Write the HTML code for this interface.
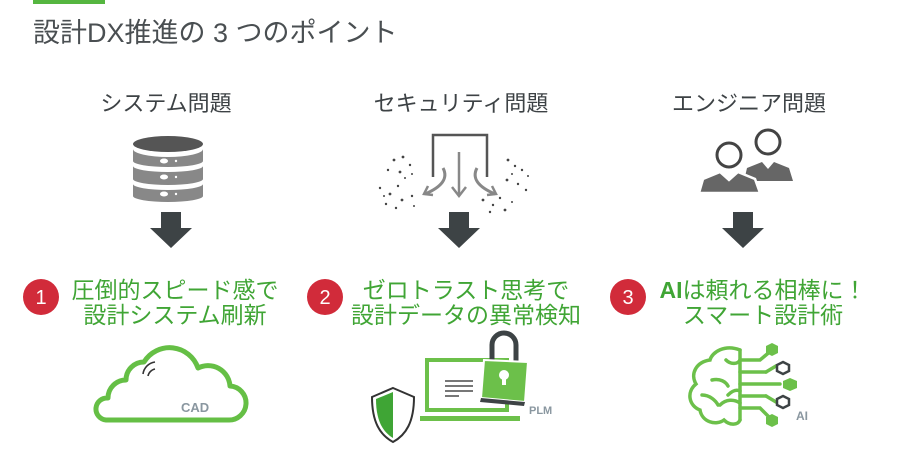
<!DOCTYPE html>
<html><head><meta charset="utf-8"><style>
html,body{margin:0;padding:0;background:#fff;}
svg{display:block;}
text{font-family:"Liberation Sans","Noto Sans CJK JP",sans-serif;}
</style></head><body>
<svg width="899" height="450" viewBox="0 0 899 450" xmlns="http://www.w3.org/2000/svg">
<rect x="33" y="0" width="72" height="4" fill="#55b640"/>
<text x="33" y="42" font-size="27" fill="#4a4f52">設計DX推進の 3 つのポイント</text>

<g font-size="22" fill="#3d4245" text-anchor="middle">
<text x="166" y="111">システム問題</text>
<text x="461" y="111">セキュリティ問題</text>
<text x="749" y="111">エンジニア問題</text>
</g>

<!-- database -->
<g>
<ellipse cx="168" cy="144" rx="35" ry="8" fill="#555"/>
<path d="M133,149 a35,8 0 0 0 70,0 v12 a35,6 0 0 1 -70,0z" fill="#888"/>
<path d="M133,166 a35,6 0 0 0 70,0 v13 a35,6 0 0 1 -70,0z" fill="#888"/>
<path d="M133,184 a35,6 0 0 0 70,0 v12 a35,6 0 0 1 -70,0z" fill="#888"/>
<ellipse cx="164" cy="161" rx="4" ry="2.5" fill="#fff"/><circle cx="176" cy="161" r="1.2" fill="#fff"/>
<ellipse cx="164" cy="177" rx="4" ry="2.5" fill="#fff"/><circle cx="176" cy="177" r="1.2" fill="#fff"/>
<ellipse cx="164" cy="194" rx="4" ry="2.5" fill="#fff"/><circle cx="176" cy="194" r="1.2" fill="#fff"/>
</g>

<!-- security icon -->
<g fill="none">
<path d="M433,177 V135 H487 V177" stroke="#555" stroke-width="2.5"/>
<path d="M459,152 V195" stroke="#888" stroke-width="2.5"/>
<path d="M452,187 l7,9 7,-9" stroke="#888" stroke-width="2.5"/>
<path d="M443,168 q8,15 -18,26" stroke="#888" stroke-width="3"/>
<path d="M428,186 l-4,8 9,1" stroke="#888" stroke-width="2.5"/>
<path d="M477,168 q-8,15 18,26" stroke="#888" stroke-width="3"/>
<path d="M492,186 l4,8 -9,1" stroke="#888" stroke-width="2.5"/>
</g>
<g fill="#444">
<circle cx="394" cy="160" r="1.4"/><circle cx="403" cy="157" r="1.4"/><circle cx="410" cy="165" r="1.2"/><circle cx="388" cy="170" r="1.2"/><circle cx="400" cy="172" r="1.4"/><circle cx="412" cy="174" r="1"/><circle cx="405" cy="178" r="1"/>
<circle cx="380" cy="188" r="1.2"/><circle cx="390" cy="194" r="1.4"/><circle cx="398" cy="186" r="1.2"/><circle cx="402" cy="200" r="1.4"/><circle cx="412" cy="196" r="1.2"/><circle cx="386" cy="204" r="1.2"/><circle cx="414" cy="206" r="1"/><circle cx="396" cy="208" r="1.2"/><circle cx="384" cy="196" r="1"/>
<circle cx="508" cy="160" r="1.4"/><circle cx="515" cy="166" r="1.2"/><circle cx="522" cy="170" r="1.2"/><circle cx="507" cy="180" r="1.4"/><circle cx="518" cy="184" r="1.2"/><circle cx="528" cy="176" r="1"/><circle cx="526" cy="190" r="1.2"/><circle cx="512" cy="174" r="1"/>
<circle cx="483" cy="200" r="1.4"/><circle cx="493" cy="205" r="1.2"/><circle cx="500" cy="198" r="1.2"/><circle cx="505" cy="210" r="1.4"/><circle cx="512" cy="202" r="1"/><circle cx="490" cy="212" r="1.2"/>
</g>

<!-- people -->
<g>
<path d="M744,181 l3,-13 l15,-6 l6,7 l6,-7 l15,6 l4,13z" fill="#666"/>
<circle cx="768" cy="142" r="12" fill="#fff" stroke="#444" stroke-width="3"/>
<path d="M699,193 l4,-14 l17,-7 l9,8 l9,-8 l17,7 l5,14z" fill="#666" stroke="#fff" stroke-width="2.5"/>
<circle cx="729" cy="155" r="12" fill="#fff" stroke="#444" stroke-width="3"/>
</g>

<!-- down arrows -->
<g fill="#3d4345">
<path d="M161,212 h20 v16 h11 l-21,20 l-21,-20 h11z"/>
<path d="M449,212 h20 v16 h11 l-21,20 l-21,-20 h11z"/>
<path d="M733,212 h20 v16 h11 l-21,20 l-21,-20 h11z"/>
</g>

<!-- numbered circles -->
<g>
<circle cx="41" cy="297" r="18" fill="#d12b3a"/>
<circle cx="325" cy="297" r="18" fill="#d12b3a"/>
<circle cx="628" cy="297" r="18" fill="#d12b3a"/>
<g font-size="20" fill="#fff" text-anchor="middle">
<text x="41" y="304">1</text><text x="325" y="304">2</text><text x="628" y="304">3</text>
</g>
</g>
<g font-size="23" fill="#40a535" text-anchor="middle">
<text x="175" y="298">圧倒的スピード感で</text>
<text x="175" y="323">設計システム刷新</text>
<text x="466" y="298">ゼロトラスト思考で</text>
<text x="466" y="323">設計データの異常検知</text>
<text x="763" y="298"><tspan font-weight="bold">AI</tspan>は頼れる相棒に！</text>
<text x="763" y="323">スマート設計術</text>
</g>

<!-- cloud -->
<path d="M108,420 H228 a17,17 0 0 0 2,-34 a22,22 0 0 0 -32,-18 a30,30 0 0 0 -54,-6 a18,18 0 0 0 -18,18 a18,18 0 0 0 -18,18 a11,11 0 0 0 -2,22z" fill="#fff" stroke="#65bf45" stroke-width="5" stroke-linejoin="round"/>
<path d="M143,374 a14,14 0 0 1 12,-12 M148,376 a9,9 0 0 1 7,-7" stroke="#333" stroke-width="1.6" fill="none"/>
<text x="181" y="412" font-size="13" font-weight="bold" fill="#8a97a0">CAD</text>

<!-- PLM -->
<g>
<rect x="427" y="360" width="80" height="50" fill="none" stroke="#6cc04a" stroke-width="4"/>
<path d="M420,416 H520 v5 H420z" fill="#6cc04a"/>
<rect x="445" y="380" width="28" height="2" fill="#777"/><rect x="445" y="385" width="28" height="2" fill="#777"/><rect x="445" y="390" width="28" height="2" fill="#777"/><rect x="445" y="395" width="14" height="2" fill="#777"/>
<path d="M492,362 V345 a12,12 0 0 1 24,0 V364" fill="none" stroke="#3d4345" stroke-width="5"/>
<path d="M484,360 L528,362 L525,402 L481,398z" fill="#6cc04a" stroke="#fff" stroke-width="2"/>
<path d="M481,398 L525,402 L524,406 L480,402z" fill="#3d4345"/>
<circle cx="504" cy="375" r="5" fill="#fff"/><rect x="502" y="376" width="4" height="9" fill="#fff"/>
<path d="M393,388 l21,9 c0,25 -8,38 -21,45 c-13,-7 -21,-20 -21,-45z" fill="#fff" stroke="#333" stroke-width="2"/>
<path d="M393,392 l-17,7 c0,22 7,33 17,39z" fill="#3fa535"/>
<text x="529" y="414" font-size="11" font-weight="bold" fill="#8a97a0">PLM</text>
</g>

<!-- brain -->
<g fill="none" stroke="#6cc04a" stroke-width="3.5" stroke-linecap="round">
<path d="M740,350 c-15,-6 -28,2 -30,10 c-14,2 -20,14 -14,24 c-10,8 -7,22 4,26 c2,12 16,16 24,10 c6,6 14,5 16,0"/>
<path d="M740,350 c0,20 0,50 0,70"/>
<path d="M726,360 c5,5 12,4 14,0 M712,380 c8,-2 14,2 16,6 M702,395 c8,0 14,6 16,10 M720,405 c6,-6 14,-6 20,-2 M728,395 c4,-4 8,-6 12,-4"/>
<path d="M740,360 h20 l12,-10 M740,372 h26 M740,384 h40 M740,396 h26 M740,408 h20 l12,12"/>
<path d="M766,372 l10,-6 M766,396 l10,6"/>
</g>
<g fill="#6cc04a">
<polygon points="772,343 778,346 778,353 772,356 766,353 766,346"/>
<polygon points="790,378 797,381 797,388 790,391 783,388 783,381"/>
<polygon points="772,414 778,417 778,424 772,427 766,424 766,417"/>
</g>
<g fill="none" stroke="#3d4345" stroke-width="2.5">
<polygon points="783,362 789,365 789,371 783,374 777,371 777,365"/>
<polygon points="783,396 789,399 789,405 783,408 777,405 777,399"/>
</g>
<text x="796" y="420" font-size="12" font-weight="bold" fill="#8a97a0">AI</text>
</svg>
</body></html>
